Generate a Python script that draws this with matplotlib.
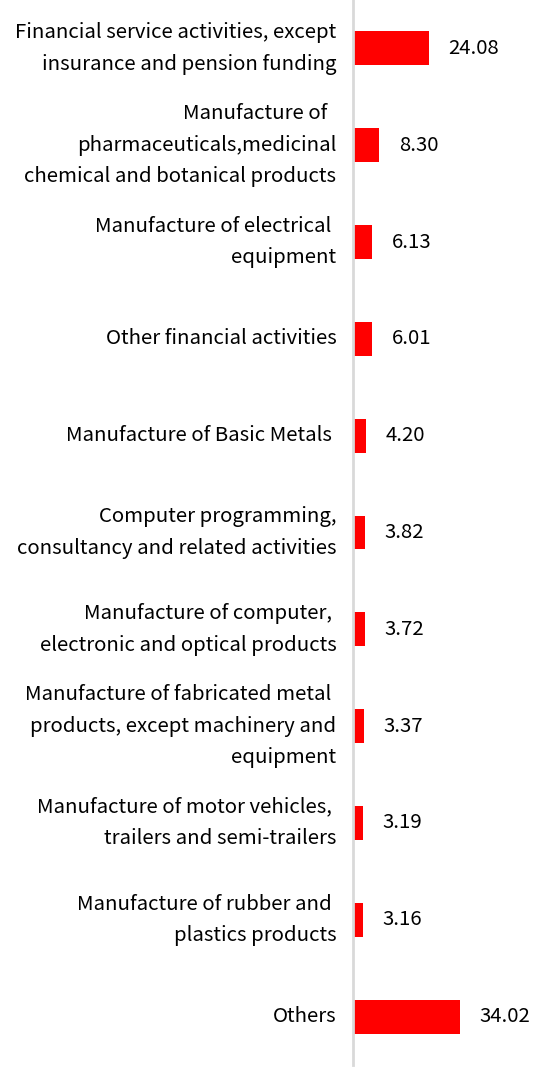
import matplotlib
matplotlib.use("Agg")
import matplotlib.pyplot as plt

plt.rcParams['font.family'] = ['Noto Sans CJK SC', 'DejaVu Sans']

categories = [
    "Financial service activities, except\ninsurance and pension funding",
    "Manufacture of  \npharmaceuticals,medicinal\nchemical and botanical products",
    "Manufacture of electrical \nequipment",
    "Other financial activities",
    "Manufacture of Basic Metals ",
    "Computer programming,\nconsultancy and related activities",
    "Manufacture of computer, \nelectronic and optical products",
    "Manufacture of fabricated metal \nproducts, except machinery and\nequipment",
    "Manufacture of motor vehicles, \ntrailers and semi-trailers",
    "Manufacture of rubber and \nplastics products",
    "Others",
]
values = [24.08, 8.30, 6.13, 6.01, 4.20, 3.82, 3.72, 3.37, 3.19, 3.16, 34.02]

fig = plt.figure(figsize=(5.53, 10.74), dpi=100)
ax = fig.add_axes([353/553, 9/1074, 200/553, 1065/1074])

pos = list(range(len(values)))
ax.barh(pos, values, height=0.35, color='#ff0000')
for p, v in zip(pos, values):
    ax.text(v + 6.3, p, "%.2f" % v, va='center', ha='left', fontsize=14.7, color='black')

ax.set_ylim(len(values) - 0.5, -0.5)
ax.set_xlim(0, 63.7)
ax.set_yticks(pos)
ax.set_yticklabels(categories, fontsize=14.7, linespacing=1.65, va='center')
ax.tick_params(axis='y', length=0, pad=12)
ax.set_xticks([])
for s in ['top', 'right', 'bottom']:
    ax.spines[s].set_visible(False)
ax.spines['left'].set_color('#d9d9d9')
ax.spines['left'].set_linewidth(2)

plt.savefig("out.png", dpi=100)
